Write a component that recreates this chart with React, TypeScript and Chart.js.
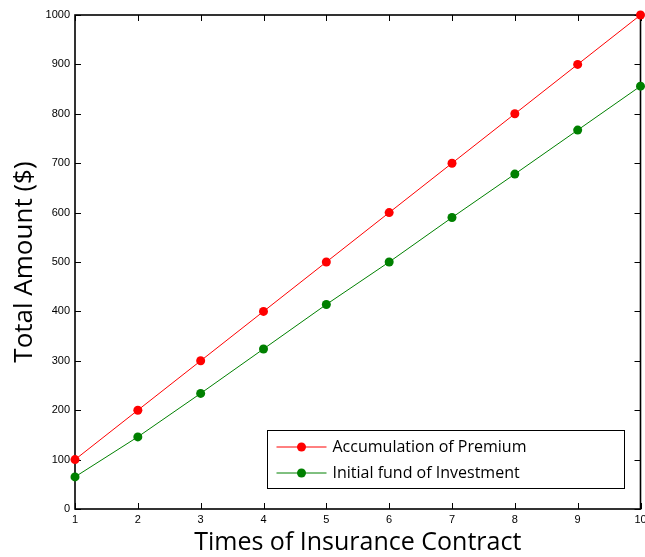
import React, { useEffect, useRef } from 'react';
import { Chart, registerables } from 'chart.js';

Chart.register(...registerables);

const contracts = [1, 2, 3, 4, 5, 6, 7, 8, 9, 10];
const premium = [100, 200, 300, 400, 500, 600, 700, 800, 900, 1000];
const fund = [65, 146, 234, 324, 414, 500, 590, 678, 767, 856];
const seriesNames = ['Accumulation of Premium', 'Initial fund of Investment'];
const seriesColors = ['#ff0000', '#008000'];
const xTitle = 'Times of Insurance Contract';
const yTitle = 'Total Amount ($)';

const frameAndLegend = {
  id: 'frameAndLegend',
  beforeDatasetsDraw(chart: any) {
    const { ctx, chartArea: a, scales } = chart;
    ctx.save();
    ctx.strokeStyle = '#000';
    ctx.lineWidth = 1;
    const tl = 6;
    ctx.beginPath();
    scales.x.ticks.forEach((t: any) => {
      const px = Math.round(scales.x.getPixelForValue(t.value)) + 0.5;
      ctx.moveTo(px, a.bottom);
      ctx.lineTo(px, a.bottom - tl);
      ctx.moveTo(px, a.top);
      ctx.lineTo(px, a.top + tl);
    });
    scales.y.ticks.forEach((t: any) => {
      const py = Math.round(scales.y.getPixelForValue(t.value)) + 0.5;
      ctx.moveTo(a.left, py);
      ctx.lineTo(a.left + tl, py);
      ctx.moveTo(a.right, py);
      ctx.lineTo(a.right - tl, py);
    });
    ctx.stroke();
    ctx.lineWidth = 1.6;
    ctx.strokeRect(a.left, a.top, a.right - a.left, a.bottom - a.top);
    ctx.restore();
  },
  afterDraw(chart: any) {
    const { ctx, chartArea: a } = chart;
    const w = 357;
    const h = 58;
    const right = a.right - 17;
    const bottom = a.bottom - 21;
    const left = right - w;
    const top = bottom - h;
    ctx.save();
    ctx.fillStyle = '#fff';
    ctx.fillRect(left, top, w, h);
    ctx.strokeStyle = '#000';
    ctx.lineWidth = 1;
    ctx.strokeRect(Math.round(left) + 0.5, Math.round(top) + 0.5, w, h);
    ctx.font = '16px "Open Sans"';
    ctx.textBaseline = 'middle';
    seriesNames.forEach((name, i) => {
      const cy = top + 17 + i * 26;
      ctx.strokeStyle = seriesColors[i];
      ctx.lineWidth = 1;
      ctx.beginPath();
      ctx.moveTo(left + 10, cy);
      ctx.lineTo(left + 60, cy);
      ctx.stroke();
      ctx.fillStyle = seriesColors[i];
      ctx.beginPath();
      ctx.arc(left + 35, cy, 4.5, 0, Math.PI * 2);
      ctx.fill();
      ctx.fillStyle = '#000';
      ctx.fillText(name, left + 66, cy);
    });
    ctx.restore();
  },
};

export default function App() {
  const ref = useRef<HTMLCanvasElement>(null);
  useEffect(() => {
    if (!ref.current) return;
    const tickFont = { family: '"Liberation Sans", Arial, sans-serif', size: 11 };
    const chart = new Chart(ref.current, {
      type: 'line',
      data: {
        datasets: [premium, fund].map((vals, i) => ({
          label: seriesNames[i],
          data: contracts.map((c, j) => ({ x: c, y: vals[j] })),
          borderColor: seriesColors[i],
          backgroundColor: seriesColors[i],
          borderWidth: 1,
          pointRadius: 4.5,
          pointBorderWidth: 0,
          pointHoverRadius: 4.5,
          tension: 0,
          clip: false as any,
        })),
      },
      options: {
        animation: false,
        responsive: true,
        maintainAspectRatio: false,
        layout: { padding: { top: 15, right: 4, left: 0, bottom: 0 } },
        plugins: { legend: { display: false }, tooltip: { enabled: false } },
        scales: {
          x: {
            type: 'linear',
            min: 1,
            max: 10,
            grid: { display: false, drawTicks: false },
            border: { display: false },
            ticks: { stepSize: 1, font: tickFont, color: '#000', padding: 4, maxRotation: 0, callback: (v: any) => String(v) },
            title: {
              display: true,
              text: xTitle,
              font: { family: '"Open Sans", sans-serif', size: 25, lineHeight: 1.1 },
              color: '#000',
              padding: { top: 0, bottom: 0 },
            },
            afterFit(s: any) {
              s.height = 48;
              s.paddingLeft = 0;
              s.paddingRight = 0;
            },
          },
          y: {
            type: 'linear',
            min: 0,
            max: 1000,
            grid: { display: false, drawTicks: false },
            border: { display: false },
            ticks: { stepSize: 100, font: tickFont, color: '#000', padding: 5, callback: (v: any) => String(v) },
            title: {
              display: true,
              text: yTitle,
              font: { family: '"Open Sans", sans-serif', size: 26 },
              color: '#000',
              padding: { top: 9, bottom: 0 },
            },
            afterFit(s: any) {
              s.width = 75;
              s.paddingTop = 0;
              s.paddingBottom = 0;
            },
          },
        },
      },
      plugins: [frameAndLegend],
    });
    return () => chart.destroy();
  }, []);
  return (
    <div style={{ position: 'fixed', left: 0, top: 0, width: 645, height: 557, background: '#fff' }}>
      <canvas ref={ref} />
    </div>
  );
}
